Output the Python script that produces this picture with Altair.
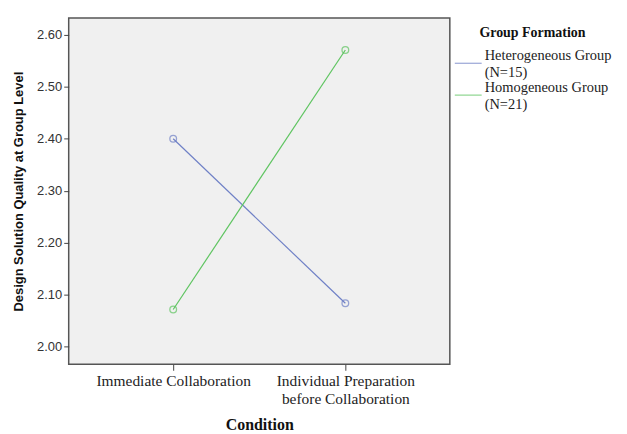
import altair as alt
import pandas as pd

conditions = ["Immediate Collaboration", "Individual Preparation|before Collaboration"]
groups = ["Heterogeneous Group|(N=15)", "Homogeneous Group|(N=21)"]
hetero = [2.40, 2.083]
homo = [2.071, 2.571]
colors = ["#6f80c6", "#5ec460"]
y_ticks = [2.0, 2.1, 2.2, 2.3, 2.4, 2.5, 2.6]

rows = []
for c, v in zip(conditions, hetero):
    rows.append({"Condition": c, "Group": groups[0], "Value": v})
for c, v in zip(conditions, homo):
    rows.append({"Condition": c, "Group": groups[1], "Value": v})
df = pd.DataFrame(rows)

x = alt.X("Condition:N", sort=conditions,
          scale=alt.Scale(type="point", padding=0.607),
          axis=alt.Axis(title="Condition", labelAngle=0,
                        labelExpr="split(datum.label, '|')",
                        labelFont="Liberation Serif", labelFontSize=15.5,
                        labelColor="#222", labelPadding=3, labelLineHeight=18,
                        titleFont="Liberation Serif", titleFontSize=16,
                        titleFontWeight="bold", titleColor="#111",
                        titleY=66, titleBaseline="alphabetic",
                        tickSize=6, tickColor="#444", domain=False, grid=False))
y = alt.Y("Value:Q",
          scale=alt.Scale(domain=[1.9655, 2.6326], nice=False, zero=False),
          axis=alt.Axis(title="Design Solution Quality at Group Level",
                        values=y_ticks, format=".2f",
                        labelFont="Liberation Sans", labelFontSize=13,
                        labelColor="#333", labelPadding=2,
                        titleFont="Liberation Sans", titleFontSize=13,
                        titleFontWeight="bold", titleColor="#111", titlePadding=11,
                        tickSize=5, tickColor="#444", domain=False, grid=False))
color = alt.Color("Group:N", sort=groups,
                  scale=alt.Scale(domain=groups, range=colors),
                  legend=alt.Legend(title="Group Formation", orient="none",
                                    legendX=387, legendY=8,
                                    symbolType="stroke", symbolSize=729,
                                    symbolStrokeWidth=1.2,
                                    labelExpr="split(datum.label, '|')",
                                    labelFont="Liberation Serif", labelFontSize=14.5,
                                    labelColor="#222", labelBaseline="bottom",
                                    labelOffset=2, rowPadding=0,
                                    titleFont="Liberation Serif", titleFontSize=14,
                                    titleFontWeight="bold", titleColor="#111",
                                    titleAnchor="middle", titlePadding=9))

base = alt.Chart(df).encode(x=x, y=y, color=color)
lines = base.mark_line(strokeWidth=1.2)
points = base.mark_point(shape="circle", filled=False, size=45, strokeWidth=1.3)

chart = (lines + points).properties(
    width=383, height=348,
    autosize=alt.AutoSizeParams(type="none"),
    padding={"left": 61, "top": 9, "right": 170, "bottom": 68},
    background="white",
).configure_view(fill="#f0f0f0", stroke="#555", strokeWidth=1.5)

chart.save("out.html", embed_options={"renderer": "svg", "actions": False})
